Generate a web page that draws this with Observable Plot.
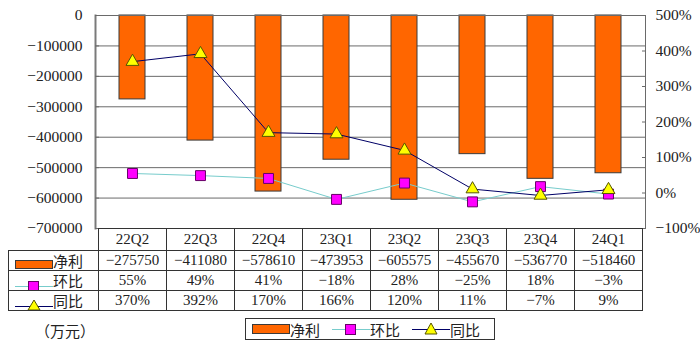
<!DOCTYPE html>
<html><head><meta charset="utf-8">
<script src="https://cdn.jsdelivr.net/npm/d3@7"></script>
<script src="https://cdn.jsdelivr.net/npm/@observablehq/plot@0.6"></script>
<style>
body{margin:0;background:#fff;}
#wrap{position:relative;width:700px;height:355px;overflow:hidden;font-family:"Liberation Serif","Noto Sans CJK SC",serif;color:#222;}
#wrap svg{position:absolute;left:0;top:0;}
.cell{position:absolute;box-sizing:border-box;border:1px solid #333;text-align:center;font-size:15px;white-space:nowrap;background:#fff;}
.lab{text-align:left;padding-left:6px;font-family:"Noto Sans CJK SC",sans-serif;}
.lab svg,.leg svg{position:static !important;vertical-align:top;}
.legbox{position:absolute;box-sizing:border-box;border:1px solid #333;display:flex;align-items:center;padding-left:6px;font-family:"Noto Sans CJK SC",sans-serif;font-size:15px;}
.leg{display:flex;align-items:center;margin-right:12px;}
.unit{position:absolute;font-family:"Noto Sans CJK SC",sans-serif;font-size:15px;}
</style></head><body><div id="wrap"></div>
<script>
const quarters = ["22Q2","22Q3","22Q4","23Q1","23Q2","23Q3","23Q4","24Q1"];
const netProfit = [-275750,-411080,-578610,-473953,-605575,-455670,-536770,-518460];
const qoqPct = [55,49,41,-18,28,-25,18,-3];
const yoyPct = [370,392,170,166,120,11,-7,9];
const leftTicks = [0,-100000,-200000,-300000,-400000,-500000,-600000,-700000];
const rightTicks = [-100,0,100,200,300,400,500];
const seriesNames = ["净利","环比","同比"];
const unitLabel = "（万元）";

const yMin = -700000, yMax = 0, pMin = -100, pMax = 500;
const toLeft = p => yMin + (p - pMin) / (pMax - pMin) * (yMax - yMin);
const fromLeft = v => pMin + (v - yMin) / (yMax - yMin) * (pMax - pMin);
const fmtNum = d3.format("d");

const rows = quarters.map((q, i) => ({q, net: netProfit[i], qoq: qoqPct[i], yoy: yoyPct[i]}));

const chart = Plot.plot({
  width: 700, height: 355,
  marginTop: 15, marginBottom: 127, marginLeft: 95, marginRight: 55,
  style: {fontFamily: "Liberation Serif, serif", fontSize: "15.5px", color: "#222", background: "transparent"},
  x: {domain: quarters, padding: 0, axis: null},
  y: {domain: [yMin, yMax], axis: null},
  marks: [
    Plot.ruleY(leftTicks, {stroke: "#6a6a6a", strokeWidth: 1}),
    Plot.barY(rows, {x: "q", y: "net", fill: "#FF6600", stroke: "#3a3a3a", strokeWidth: 1, insetLeft: 21, insetRight: 21}),
    Plot.line(rows, {x: "q", y: d => toLeft(d.qoq), stroke: "#77CCCC", strokeWidth: 1}),
    Plot.line(rows, {x: "q", y: d => toLeft(d.yoy), stroke: "#000066", strokeWidth: 1}),
    Plot.dot(rows, {x: "q", y: d => toLeft(d.qoq), symbol: "square", r: 5.6, fill: "#FF00FF", stroke: "#660066", strokeWidth: 1}),
    Plot.dot(rows, {x: "q", y: d => toLeft(d.yoy), symbol: "triangle", r: 4.8, fill: "#FFFF00", stroke: "#555500", strokeWidth: 1}),
    Plot.frame({stroke: "#6a6a6a"}),
    Plot.frame({anchor: "left", stroke: "#7a7a7a", strokeWidth: 2}),
    Plot.axisY(leftTicks, {anchor: "left", tickSize: -4, tickFormat: () => "", stroke: "#6a6a6a", label: null}),
    Plot.axisY(rightTicks.map(toLeft), {anchor: "right", tickSize: -4, tickFormat: () => "", stroke: "#6a6a6a", label: null}),
    Plot.axisY(leftTicks, {anchor: "left", tickSize: 0, tickPadding: 13, tickFormat: fmtNum, fontSize: 15.5, label: null}),
    Plot.axisY(rightTicks.map(toLeft), {anchor: "right", tickSize: 0, tickPadding: 10, tickFormat: v => fmtNum(Math.round(fromLeft(v))) + "%", fontSize: 15.5, label: null})
  ]
});

const wrap = document.getElementById("wrap");
wrap.appendChild(chart);

const xs = chart.scale("x"), ys = chart.scale("y");
const bw = xs.bandwidth;
const plotBottom = Math.round(ys.apply(yMin));
const plotLeft = Math.round(xs.apply(quarters[0]));
const tableLeft = 8;
const catH = 22, rowH = 20;

function cell(x0, x1, y0, h, html, cls) {
  const d = document.createElement("div");
  d.className = "cell" + (cls ? " " + cls : "");
  d.style.left = Math.round(x0) + "px";
  d.style.top = Math.round(y0) + "px";
  d.style.width = (Math.round(x1) - Math.round(x0) + 1) + "px";
  d.style.height = (h + 1) + "px";
  d.style.lineHeight = (h - 1) + "px";
  d.innerHTML = html;
  wrap.appendChild(d);
}

const keys = [
  '<svg width="38" height="19"><rect x="0.5" y="9.5" width="37" height="8" fill="#FF6600" stroke="#3a3a3a"/></svg>',
  '<svg width="38" height="19"><line x1="0" x2="38" y1="15.5" y2="15.5" stroke="#77CCCC"/><rect x="13.5" y="10.5" width="10" height="9" fill="#FF00FF" stroke="#660066"/></svg>',
  '<svg width="38" height="19"><line x1="0" x2="38" y1="15.5" y2="15.5" stroke="#000066"/><path d="M19,9 L25,19 L13,19 Z" fill="#FFFF00" stroke="#555500"/></svg>'
];

quarters.forEach(q => {
  const x0 = xs.apply(q);
  cell(x0, x0 + bw, plotBottom, catH, q);
});
const series = [
  rows.map(d => fmtNum(d.net)),
  rows.map(d => fmtNum(d.qoq) + "%"),
  rows.map(d => fmtNum(d.yoy) + "%")
];
series.forEach((vals, r) => {
  const y0 = plotBottom + catH + r * rowH;
  cell(tableLeft, plotLeft, y0, rowH, keys[r] + '<span style="vertical-align:top">' + seriesNames[r] + '</span>', "lab");
  quarters.forEach((q, i) => {
    const x0 = xs.apply(q);
    cell(x0, x0 + bw, y0, rowH, vals[i]);
  });
});

// legend
const legendKeys = [
  '<svg width="38" height="14"><rect x="0.5" y="2.5" width="37" height="9" fill="#FF6600" stroke="#3a3a3a"/></svg>',
  '<svg width="38" height="14"><line x1="0" x2="38" y1="7.5" y2="7.5" stroke="#77CCCC"/><rect x="13.5" y="2.5" width="10" height="10" fill="#FF00FF" stroke="#660066"/></svg>',
  '<svg width="38" height="14"><line x1="0" x2="38" y1="7.5" y2="7.5" stroke="#000066"/><path d="M19,1 L25,12 L13,12 Z" fill="#FFFF00" stroke="#555500"/></svg>'
];
const lb = document.createElement("div");
lb.className = "legbox";
lb.style.left = "245px"; lb.style.top = "318px"; lb.style.width = "250px"; lb.style.height = "22px";
lb.innerHTML = seriesNames.map((n, i) => '<span class="leg">' + legendKeys[i] + '<span>' + n + '</span></span>').join("");
wrap.appendChild(lb);

const u = document.createElement("div");
u.className = "unit";
u.style.left = "35px"; u.style.top = "320px";
u.textContent = unitLabel;
wrap.appendChild(u);
</script>
</body></html>
